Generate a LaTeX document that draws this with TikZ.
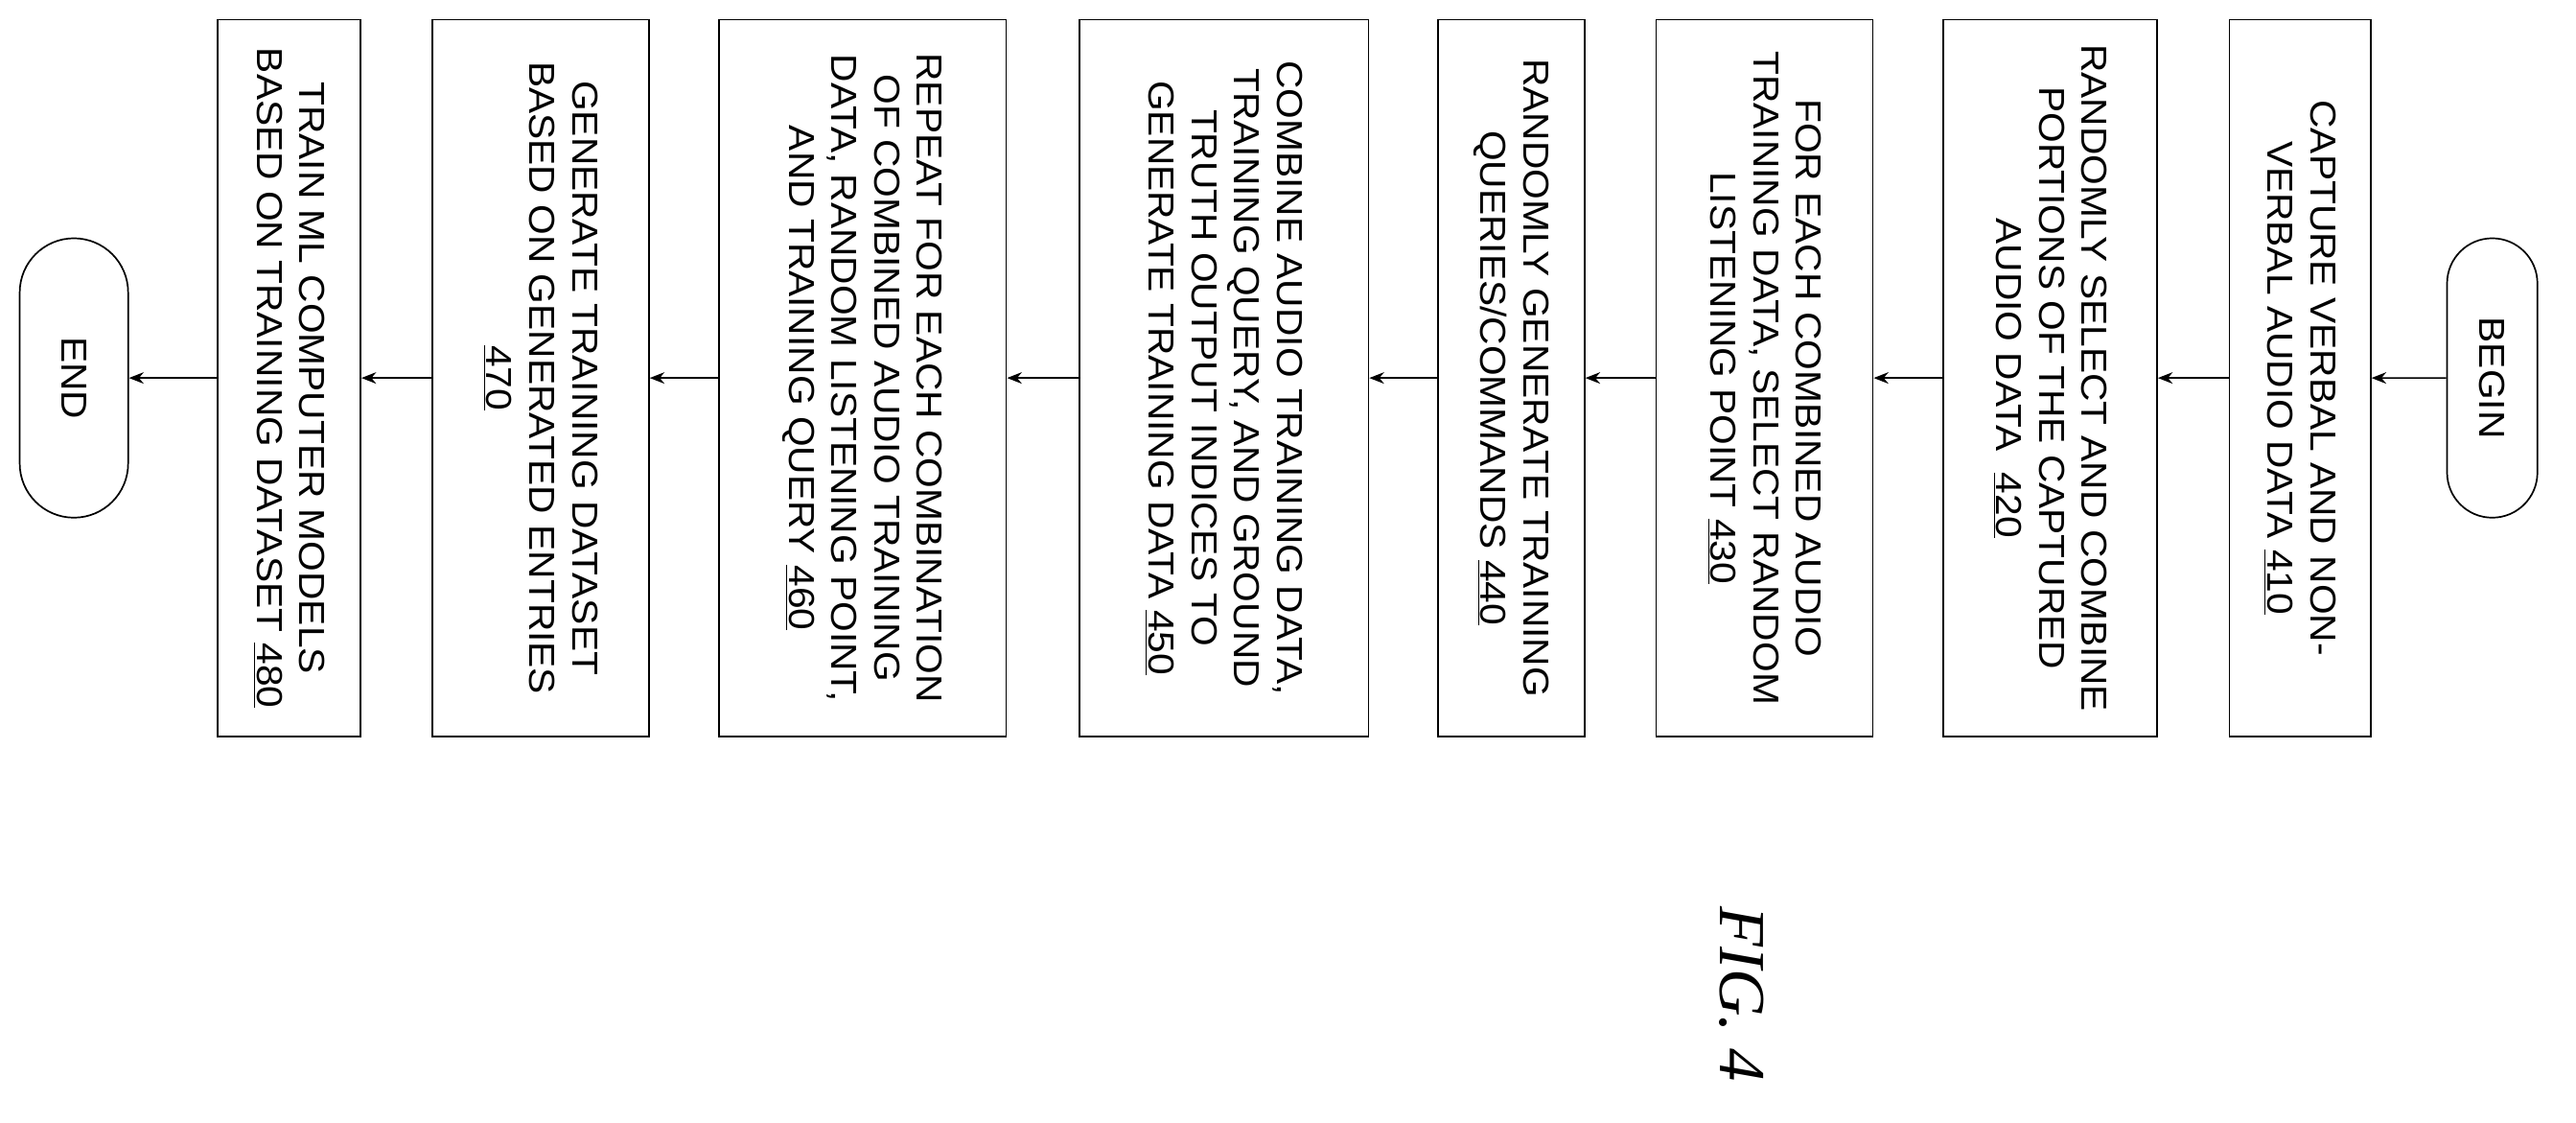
\documentclass[tikz,border=0pt]{standalone}
\usepackage{fontspec}
\setmainfont{Liberation Sans}[FakeStretch=1.08]
\newfontfamily\figfont{Liberation Serif}
\usepackage{tikz}
\usetikzlibrary{arrows.meta,shapes.misc}

\begin{document}
\begin{tikzpicture}[x=1pt,y=1pt,
    every node/.style={inner sep=0pt,font=\fontsize{22}{26}\selectfont},
    block/.style={draw,line width=1pt,rotate=-90,minimum width=436,align=center},
    term/.style={draw,line width=1pt,rotate=-90,rounded rectangle,minimum width=170,minimum height=#1},
    flow/.style={-{Stealth[length=9,width=7]},line width=0.9pt}]
  \useasboundingbox (0,0) rectangle (1568,683);
  % blocks, right to left
  \node[term=55] (begin) at (1517,453) {BEGIN};
  \node[block,minimum height=86] (s410) at (1400,453) {CAPTURE VERBAL AND NON-\\VERBAL AUDIO DATA \underline{410}};
  \node[block,minimum height=130] (s420) at (1248,453) {RANDOMLY SELECT AND COMBINE\\PORTIONS OF THE CAPTURED\\AUDIO DATA \ \underline{420}};
  \node[block,minimum height=132] (s430) at (1074,453) {FOR EACH COMBINED AUDIO\\TRAINING DATA, SELECT RANDOM\\LISTENING POINT \underline{430}};
  \node[block,minimum height=89] (s440) at (920,453) {RANDOMLY GENERATE TRAINING\\QUERIES/COMMANDS \underline{440}};
  \node[block,minimum height=176] (s450) at (745,453) {COMBINE AUDIO TRAINING DATA,\\TRAINING QUERY, AND GROUND\\TRUTH OUTPUT INDICES TO\\GENERATE TRAINING DATA \underline{450}};
  \node[block,minimum height=175] (s460) at (525,453) {REPEAT FOR EACH COMBINATION\\OF COMBINED AUDIO TRAINING\\DATA, RANDOM LISTENING POINT,\\AND TRAINING QUERY \underline{460}};
  \node[block,minimum height=132] (s470) at (329,453) {GENERATE TRAINING DATASET\\BASED ON GENERATED ENTRIES\\\underline{470}};
  \node[block,minimum height=87] (s480) at (176,453) {TRAIN ML COMPUTER MODELS\\BASED ON TRAINING DATASET \underline{480}};
  \node[term=66] (end) at (45,453) {END};
  % connectors
  \draw[flow] (begin) -- (s410);
  \draw[flow] (s410) -- (s420);
  \draw[flow] (s420) -- (s430);
  \draw[flow] (s430) -- (s440);
  \draw[flow] (s440) -- (s450);
  \draw[flow] (s450) -- (s460);
  \draw[flow] (s460) -- (s470);
  \draw[flow] (s470) -- (s480);
  \draw[flow] (s480) -- (end);
  \node[rotate=-90,font=\figfont\itshape\fontsize{40}{40}\selectfont] (fig) at (1060,78) {FIG. 4};
\end{tikzpicture}
\end{document}
